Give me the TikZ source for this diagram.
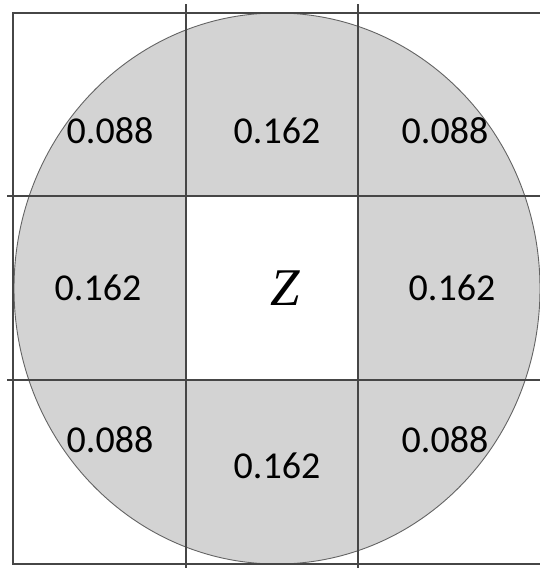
\documentclass[tikz,border=0pt]{standalone}
\usepackage{fontspec}
\setmainfont{Carlito}
\newfontfamily\zfont{Liberation Serif}
\definecolor{cellgrey}{RGB}{211,211,211}
\definecolor{linegrey}{RGB}{70,70,70}
\definecolor{rimgrey}{RGB}{100,100,100}
\begin{document}
\begin{tikzpicture}[x=1pt,y=-1pt,
  gridline/.style={draw=linegrey, line width=1.3pt},
  rim/.style={draw=rimgrey, line width=0.9pt},
  val/.style={font=\fontsize{38}{38}\selectfont, inner sep=0pt, anchor=center},
  zlabel/.style={font=\zfont\itshape\fontsize{53}{53}\selectfont, inner sep=0pt, anchor=center}]
\useasboundingbox (0,0) rectangle (540,568);
\clip (0,0) rectangle (540,568);
\fill[white] (0,0) rectangle (540,568);
% shaded disc and white centre cell
\fill[cellgrey] (277,288.5) ellipse [x radius=263pt, y radius=275.5pt];
\fill[white] (186,196) rectangle (358,380);
\draw[rim] (277,288.5) ellipse [x radius=263pt, y radius=275.5pt];
% grid
\draw[gridline] (560,13) -- (13,13) -- (13,564) -- (560,564);
\draw[gridline] (186,4) -- (186,580);
\draw[gridline] (358,4) -- (358,580);
\draw[gridline] (7,196) -- (560,196);
\draw[gridline] (7,380) -- (560,380);
% values
\node[val] (tl) at (110,130.5) {0.088};
\node[val] (tm) at (277,130.5) {0.162};
\node[val] (tr) at (445,130.5) {0.088};
\node[val] (ml) at (98,288) {0.162};
\node[zlabel] (z) at (285,288) {Z};
\node[val] (mr) at (452,288) {0.162};
\node[val] (bl) at (110,440) {0.088};
\node[val] (bm) at (277,466) {0.162};
\node[val] (br) at (445,440) {0.088};
\end{tikzpicture}
\end{document}
